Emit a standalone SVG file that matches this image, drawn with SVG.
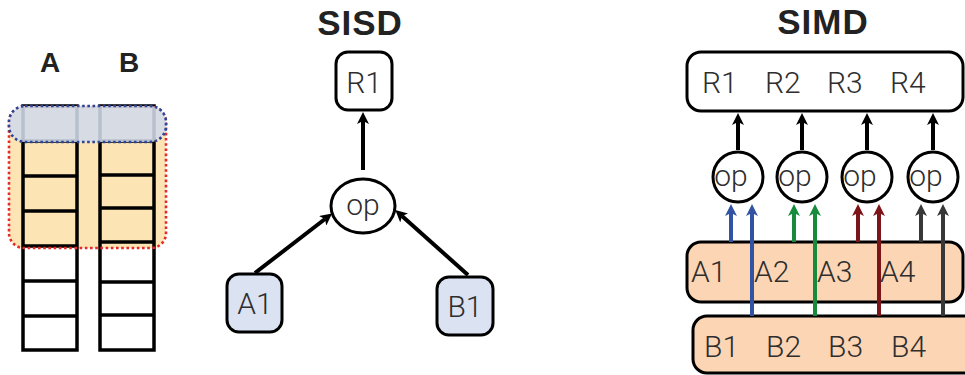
<svg xmlns="http://www.w3.org/2000/svg" width="965" height="375" viewBox="0 0 965 375">
  <style>
    .title { font-family: "Liberation Sans", Arial, sans-serif; font-weight: bold; fill: #222; text-anchor: middle; }
    .lbl { font-family: Roboto, "Liberation Sans", Arial, sans-serif; font-weight: 300; font-size: 30px; fill: #2e2e2e; }
    .mid { text-anchor: middle; }
    .box { stroke: #000; stroke-width: 3; }
    .cell { fill: none; stroke: #000; stroke-width: 3.5; }
    .wire { fill: none; stroke-width: 4; }
  </style>
  <defs>
    <marker id="ah-black" viewBox="0 0 12 12" refX="3" refY="6" markerWidth="12" markerHeight="12" markerUnits="userSpaceOnUse" orient="auto">
      <path d="M0,0 L12,6 L0,12 L3,6 z" fill="#000"/>
    </marker>
    <marker id="ah-blue" viewBox="0 0 12 12" refX="3" refY="6" markerWidth="12" markerHeight="12" markerUnits="userSpaceOnUse" orient="auto">
      <path d="M0,0 L12,6 L0,12 L3,6 z" fill="#3253a2"/>
    </marker>
    <marker id="ah-green" viewBox="0 0 12 12" refX="3" refY="6" markerWidth="12" markerHeight="12" markerUnits="userSpaceOnUse" orient="auto">
      <path d="M0,0 L12,6 L0,12 L3,6 z" fill="#178a3c"/>
    </marker>
    <marker id="ah-red" viewBox="0 0 12 12" refX="3" refY="6" markerWidth="12" markerHeight="12" markerUnits="userSpaceOnUse" orient="auto">
      <path d="M0,0 L12,6 L0,12 L3,6 z" fill="#7c1517"/>
    </marker>
    <marker id="ah-dark" viewBox="0 0 12 12" refX="3" refY="6" markerWidth="12" markerHeight="12" markerUnits="userSpaceOnUse" orient="auto">
      <path d="M0,0 L12,6 L0,12 L3,6 z" fill="#383838"/>
    </marker>
  </defs>

  <rect width="965" height="375" fill="#fff"/>

  <!-- Memory layout: two arrays A and B -->
  <g id="memory">
    <text class="title" x="50" y="72" font-size="28">A</text>
    <text class="title" x="129" y="72" font-size="28">B</text>
    <!-- vector register width (orange) -->
    <rect x="9" y="107" width="157" height="141" rx="15" fill="#fde4b5"/>
    <!-- column A -->
    <rect class="cell" x="23" y="106" width="54" height="244"/>
    <path class="cell" d="M23,141H77M23,176H77M23,211H77M23,246H77M23,281H77M23,316H77"/>
    <!-- column B -->
    <rect class="cell" x="100" y="106" width="54" height="244"/>
    <path class="cell" d="M100,141H154M100,175H154M100,208H154M100,242H154M100,282H154M100,315H154"/>
    <rect x="9" y="107" width="157" height="141" rx="15" fill="none" stroke="#e52a2a" stroke-width="2.6" stroke-dasharray="2.6 2.6"/>
    <!-- scalar element (blue) -->
    <rect x="9" y="106" width="157" height="36" rx="16" fill="#d2dbeb" fill-opacity="0.88" stroke="#2d4595" stroke-width="2.6" stroke-dasharray="2.6 2.6"/>
  </g>

  <!-- SISD -->
  <text class="title" x="360" y="35" font-size="35" letter-spacing="1">SISD</text>
  <g id="sisd-r1">
    <rect class="box" x="336" y="52" width="56" height="58" rx="12" fill="#fff"/>
    <text class="lbl mid" x="364" y="93">R1</text>
  </g>
  <g id="sisd-op">
    <ellipse class="box" cx="363" cy="206" rx="32" ry="27" fill="#fff"/>
    <text class="lbl mid" x="363" y="215">op</text>
  </g>
  <g id="sisd-a1">
    <rect class="box" x="227" y="274" width="55" height="58" rx="12" fill="#dbe3f3"/>
    <text class="lbl mid" x="255" y="314">A1</text>
  </g>
  <g id="sisd-b1">
    <rect class="box" x="437" y="277" width="56" height="58" rx="12" fill="#dbe3f3"/>
    <text class="lbl mid" x="465" y="317">B1</text>
  </g>
  <g id="sisd-connectors" stroke="#000">
    <line class="wire" x1="363" y1="170" x2="363" y2="121" marker-end="url(#ah-black)"/>
    <line class="wire" x1="255" y1="273" x2="325" y2="219" marker-end="url(#ah-black)"/>
    <line class="wire" x1="468" y1="275" x2="402" y2="216" marker-end="url(#ah-black)"/>
  </g>

  <!-- SIMD -->
  <text class="title" x="823" y="34" font-size="35" letter-spacing="1">SIMD</text>
  <g id="simd-r">
    <rect class="box" x="687" y="52" width="276" height="59" rx="14" fill="#fff"/>
    <text class="lbl" x="702" y="93">R1</text>
    <text class="lbl" x="765" y="93">R2</text>
    <text class="lbl" x="827" y="93">R3</text>
    <text class="lbl" x="890" y="93">R4</text>
  </g>
  <g id="simd-op1">
    <circle class="box" cx="738" cy="177" r="25" fill="#fff"/>
    <text class="lbl mid" x="731" y="186">op</text>
  </g>
  <g id="simd-op2">
    <circle class="box" cx="802" cy="177" r="25" fill="#fff"/>
    <text class="lbl mid" x="795" y="186">op</text>
  </g>
  <g id="simd-op3">
    <circle class="box" cx="867" cy="177" r="25" fill="#fff"/>
    <text class="lbl mid" x="860" y="186">op</text>
  </g>
  <g id="simd-op4">
    <circle class="box" cx="933" cy="177" r="25" fill="#fff"/>
    <text class="lbl mid" x="926" y="186">op</text>
  </g>
  <g id="simd-a">
    <rect class="box" x="687" y="242" width="276" height="60" rx="14" fill="#fcd5b5"/>
    <text class="lbl" x="691" y="282">A1</text>
    <text class="lbl" x="754" y="282">A2</text>
    <text class="lbl" x="817" y="282">A3</text>
    <text class="lbl" x="880" y="282">A4</text>
  </g>
  <g id="simd-b">
    <rect class="box" x="693" y="316" width="285" height="57" rx="14" fill="#fcd5b5"/>
    <text class="lbl" x="704" y="357">B1</text>
    <text class="lbl" x="766" y="357">B2</text>
    <text class="lbl" x="828" y="357">B3</text>
    <text class="lbl" x="891" y="357">B4</text>
  </g>
  <g id="simd-connectors">
    <!-- op results to R -->
    <g stroke="#000">
      <line class="wire" x1="738" y1="150" x2="738" y2="122" marker-end="url(#ah-black)"/>
      <line class="wire" x1="802" y1="150" x2="802" y2="122" marker-end="url(#ah-black)"/>
      <line class="wire" x1="867" y1="150" x2="867" y2="122" marker-end="url(#ah-black)"/>
      <line class="wire" x1="933" y1="150" x2="933" y2="122" marker-end="url(#ah-black)"/>
    </g>
    <!-- lane operands -->
    <line class="wire" stroke="#3253a2" stroke-width="3.6" x1="731" y1="242" x2="731" y2="213" marker-end="url(#ah-blue)"/>
    <line class="wire" stroke="#3253a2" stroke-width="3.6" x1="752" y1="316" x2="752" y2="213" marker-end="url(#ah-blue)"/>
    <line class="wire" stroke="#178a3c" stroke-width="3.6" x1="794" y1="242" x2="794" y2="213" marker-end="url(#ah-green)"/>
    <line class="wire" stroke="#178a3c" stroke-width="3.6" x1="815" y1="316" x2="815" y2="213" marker-end="url(#ah-green)"/>
    <line class="wire" stroke="#7c1517" stroke-width="3.6" x1="858" y1="242" x2="858" y2="213" marker-end="url(#ah-red)"/>
    <line class="wire" stroke="#7c1517" stroke-width="3.6" x1="879" y1="316" x2="879" y2="213" marker-end="url(#ah-red)"/>
    <line class="wire" stroke="#383838" stroke-width="3.6" x1="921" y1="242" x2="921" y2="213" marker-end="url(#ah-dark)"/>
    <line class="wire" stroke="#383838" stroke-width="3.6" x1="943" y1="316" x2="943" y2="213" marker-end="url(#ah-dark)"/>
  </g>
</svg>
